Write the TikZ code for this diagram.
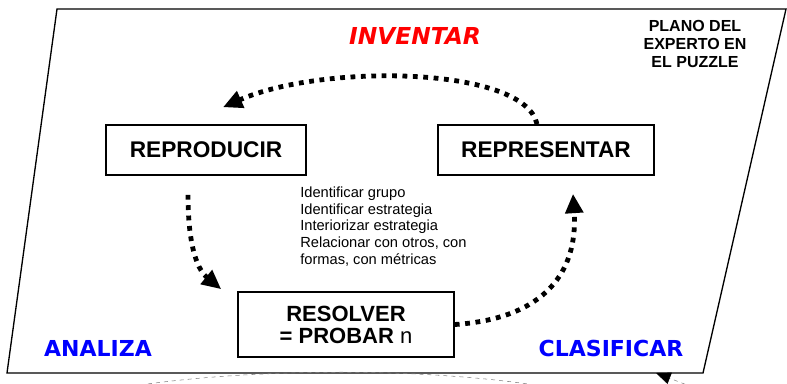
\documentclass[tikz,border=0pt]{standalone}
\usepackage{fontspec}
\setmainfont{Liberation Sans}
\newfontfamily\comicfont{DejaVu Sans}
\usetikzlibrary{arrows.meta, positioning}
\definecolor{colorInv}{HTML}{FF0000}
\definecolor{colorCls}{HTML}{0000FF}
\definecolor{colorArc}{HTML}{808080}

\begin{document}
\begin{tikzpicture}[x=0.75pt, y=-0.75pt,
        stage/.style={draw, line width=1.2pt, inner sep=0pt, font=\bfseries\fontsize{17}{20}\selectfont},
        corner/.style={font=\comicfont\bfseries\fontsize{16.5}{18}\selectfont, text=colorCls},
        flow/.style={line width=3.6pt, line cap=butt, dash pattern=on 3.6pt off 4.2pt, -{Triangle[length=14.5pt,width=13pt]}},
        hint/.style={colorArc, thin, dashed}]
        \useasboundingbox (0,0) rectangle (787,383);
        \clip (0,0) rectangle (787,383);

        \draw[line width=1pt] (57,9) -- (786,9) -- (703,373) -- (7,373) -- cycle;

        \node[stage, minimum width=150pt, minimum height=37.5pt] (reproducir) at (206,150) {REPRODUCIR};
        \node[stage, minimum width=162pt, minimum height=37.5pt] (representar) at (546,150) {REPRESENTAR};
        \node[stage, minimum width=162pt, minimum height=48.75pt, align=center,
              font=\bfseries\fontsize{16.5}{16.5}\selectfont] (resolver) at (346,324.5)
            {RESOLVER\\= PROBAR {\mdseries n}};

        \node[anchor=north west, inner sep=0pt, align=left, font=\fontsize{11}{12.4}\selectfont] (pasos) at (300,187)
            {Identificar grupo\\Identificar estrategia\\Interiorizar estrategia\\Relacionar con otros, con\\formas, con métricas};

        \node[align=center, inner sep=0pt, font=\bfseries\fontsize{12}{13.5}\selectfont] (plano) at (695,44)
            {PLANO DEL\\EXPERTO EN\\EL PUZZLE};
        \node[font=\comicfont\bfseries\itshape\fontsize{17.5}{20}\selectfont, text=colorInv] (inventar) at (415,35.5) {INVENTAR};
        \node[corner] (analiza) at (98,348) {ANALIZA};
        \node[corner] (clasificar) at (611,348) {CLASIFICAR};

        \draw[flow] ([shift={(-9,0)}]representar.north) .. controls +(-12,-58) and +(100,-44) .. ([shift={(17,-17)}]reproducir.north);
        \draw[flow] ([shift={(-18,19)}]reproducir.south) .. controls +(0,56) and +(-22,-18) .. ([shift={(-16,-2)}]resolver.north west);
        \draw[flow] (resolver.east) .. controls +(91,-6) and +(5,77) .. ([shift={(27,18)}]representar.south);

        \coordinate (arcL) at (140,385);
        \coordinate (arcR) at (535,385);
        \coordinate (arcTail) at (700,390);
        \coordinate (arcHead) at (656,373);
        \draw[hint] (arcL) .. controls (260,368) and (420,368) .. (arcR);
        \draw[hint, -{Triangle[length=11pt,width=9pt]}, arrows={[black]}] (arcTail) -- (arcHead);
    \end{tikzpicture}
\end{document}
